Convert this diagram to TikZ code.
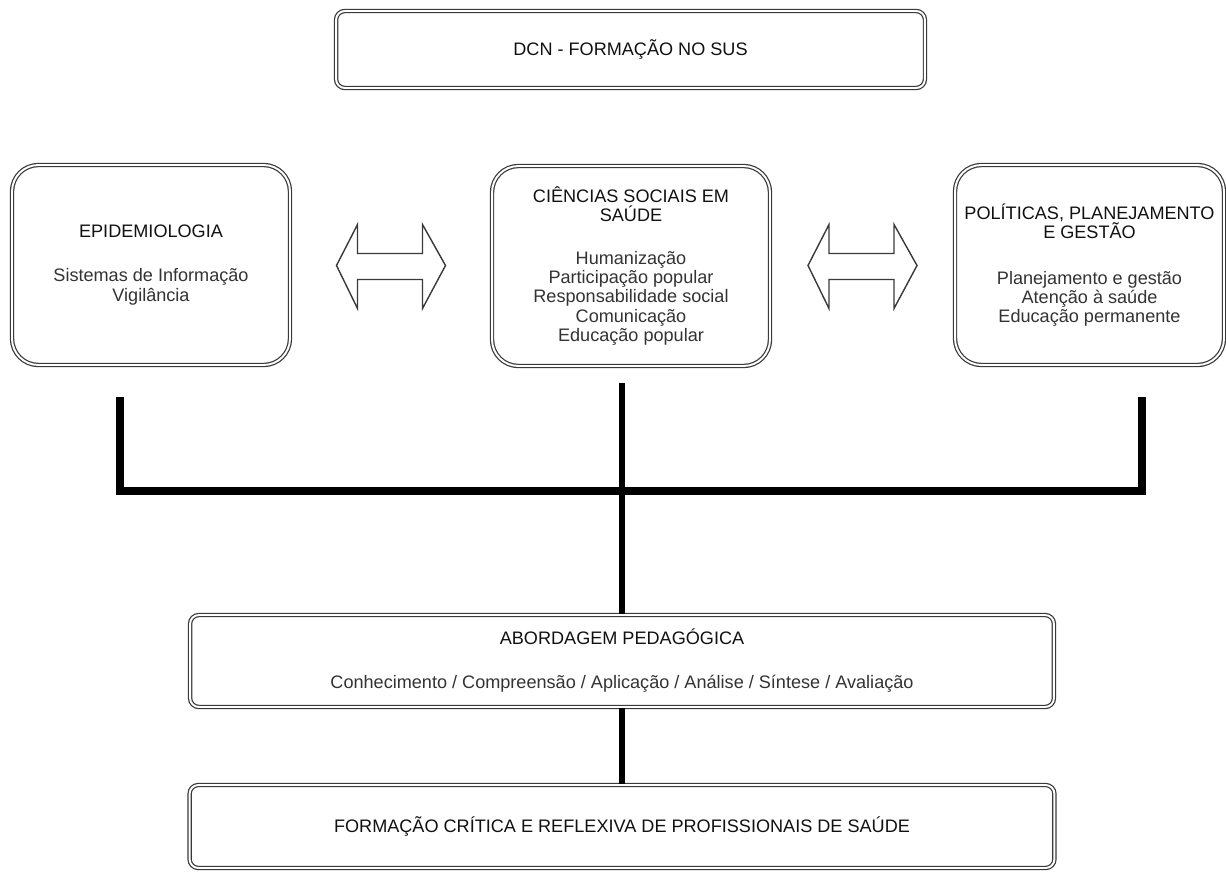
\documentclass[tikz,border=0pt]{standalone}
\usepackage{fontspec}
\setmainfont{Liberation Sans}
\usepackage{xcolor}
\usepackage{tikz}
\usetikzlibrary{calc,positioning}
\definecolor{edgex}{HTML}{3A3A3A}
\definecolor{titlex}{HTML}{111111}
\definecolor{itemx}{HTML}{333333}
\tikzset{
  dbox/.style={draw=edgex,line width=0.7pt,double=white,double distance=1.1pt,
    fill=white,align=center,text=itemx,inner xsep=2pt,inner ysep=2pt,
    font=\fontsize{10.3}{11}\selectfont},
  tallbox/.style={dbox,rounded corners=15pt,minimum width=5.56cm,minimum height=4cm},
  widebox/.style={dbox,rounded corners=5pt},
  bar/.style={line width=4.5pt,black,line join=miter},
  stem/.style={line width=3.1pt,black},
  hollow/.style={draw=edgex,line width=0.8pt,fill=white,line join=miter}
}
\newcommand{\ttl}[1]{\textcolor{titlex}{#1}}
% two-headed hollow arrow, centred on #1
\newcommand{\twohead}[1]{%
  \draw[hollow,shift={(#1)}] (-54.5,0) -- (-33.5,-41) -- (-33.5,-12) -- (31.5,-12)
    -- (31.5,-41) -- (54.5,0) -- (31.5,43) -- (31.5,14) -- (-33.5,14)
    -- (-33.5,43) -- cycle;}

\begin{document}
\begin{tikzpicture}[x=0.02cm,y=-0.02cm]
\useasboundingbox[fill=white] (0,0) rectangle (1226,872);

% top
\node[widebox,minimum width=11.78cm,minimum height=1.54cm] (dcn) at (630.5,49.5)
  {\ttl{DCN - FORMAÇÃO NO SUS}};

% three areas
\node[tallbox] (epi) at (151,265)
  {\ttl{EPIDEMIOLOGIA}\\[14pt]Sistemas de Informação\\Vigilância};
\node[tallbox] (soc) at (631,266)
  {\ttl{CIÊNCIAS SOCIAIS EM}\\\ttl{SAÚDE}\\[13pt]Humanização\\Participação popular\\
   Responsabilidade social\\Comunicação\\Educação popular};
\node[tallbox,minimum width=5.38cm] (pol) at (1089.5,265)
  {\ttl{POLÍTICAS, PLANEJAMENTO}\\\ttl{E GESTÃO}\\[15pt]Planejamento e gestão\\
   Atenção à saúde\\Educação permanente};

\twohead{$(epi.east)!0.5!(soc.west)$}
\twohead{$(soc.east)!0.5!(pol.west)$}

% bottom
\node[widebox,minimum width=17.28cm,minimum height=1.84cm] (abord) at (622,661)
  {\ttl{ABORDAGEM PEDAGÓGICA}\\[14pt]Conhecimento / Compreensão / Aplicação / Análise / Síntese / Avaliação};
\node[widebox,minimum width=17.3cm,minimum height=1.66cm] (form) at (622,826.5)
  {\ttl{FORMAÇÃO CRÍTICA E REFLEXIVA DE PROFISSIONAIS DE SAÚDE}};

% joining bars
\coordinate (lt) at (120,397);
\coordinate (lb) at (120,491);
\coordinate (rb) at (1142,491);
\coordinate (rt) at (1142,397);
\coordinate (mt) at (622,383);
\draw[bar] (lt) -- (lb) -- (rb) -- (rt);
\draw[stem] (mt) -- (abord.north);
\draw[stem] (abord.south) -- (form.north);
\end{tikzpicture}
\end{document}
